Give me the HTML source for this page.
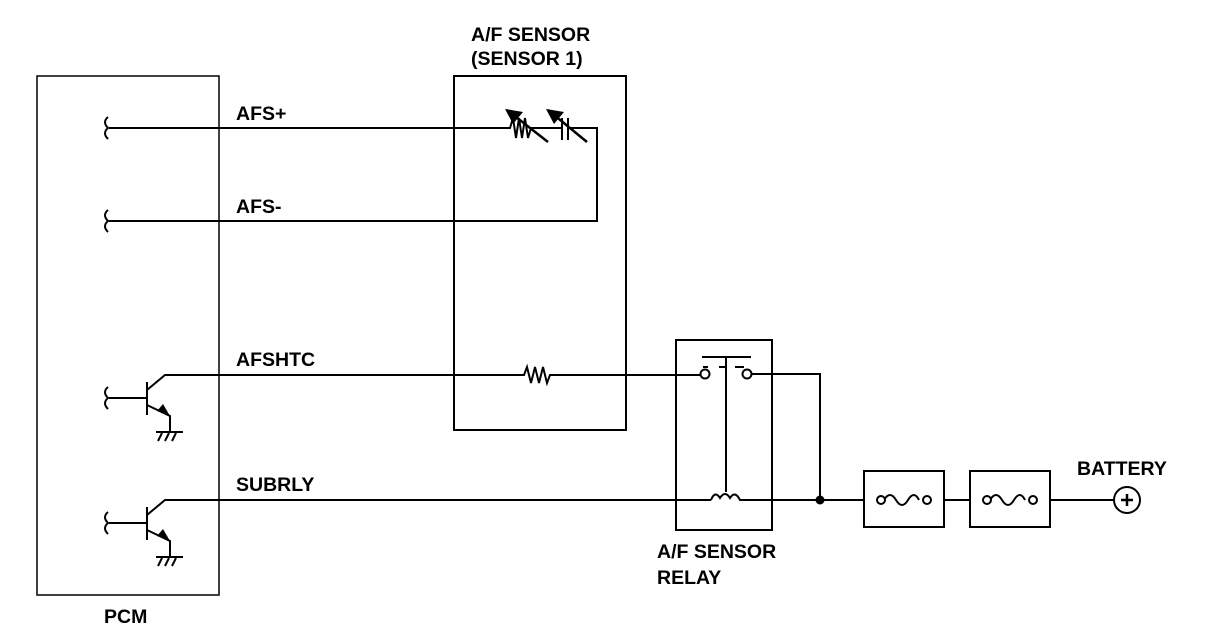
<!DOCTYPE html>
<html><head><meta charset="utf-8"><style>
html,body{margin:0;padding:0;background:#fff;}
svg{display:block;}
text{font-family:"Liberation Sans",Arial,sans-serif;font-weight:bold;font-size:19.5px;fill:#000;}
</style></head><body>
<svg width="1216" height="636" viewBox="0 0 1216 636" xmlns="http://www.w3.org/2000/svg">
<g fill="none" stroke="#000" stroke-width="1.5">
<rect x="37" y="76" width="182" height="519"/>
<rect x="454" y="76" width="172" height="354" stroke-width="2"/>
<rect x="676" y="340" width="96" height="190" stroke-width="2"/>
<rect x="864" y="471" width="80" height="56" stroke-width="2"/>
<rect x="970" y="471" width="80" height="56" stroke-width="2"/>
</g>
<g fill="none" stroke="#000" stroke-width="2">
<path d="M108 117 q-6 5 0 11 q-6 5 0 11"/>
<path d="M108 210 q-6 5 0 11 q-6 5 0 11"/>
<path d="M108 387 q-6 5 0 11 q-6 5 0 11"/>
<path d="M108 512 q-6 5 0 11 q-6 5 0 11"/>
<path d="M109 128 H510 l3 -10 l3 20 l3 -20 l3 20 l3 -20 l3 20 l3 -10 H555"/>
<path d="M507 110 L548 142" stroke-width="2.5"/>
<path d="M562 118 V140 M568 118 V140"/>
<path d="M555 128 H562 M568 128 H597 V221 H109"/>
<path d="M548 110 L587 142" stroke-width="2.5"/>
<path d="M109 398 H147 M147 382 V415 M147 390 L165 375 H524 l3 -8 l4 16 l4 -16 l4 16 l4 -16 l4 16 l3 -8 H700"/>
<path d="M147 405 L170 416 V431 M156 432 H183"/>
<path d="M158 441 l4 -8 M165 441 l4 -8 M172 441 l4 -8"/>
<path d="M109 523 H147 M147 507 V540 M147 515 L165 500 H711"/>
<path d="M147 530 L170 541 V556 M156 557 H183"/>
<path d="M158 566 l4 -8 M165 566 l4 -8 M172 566 l4 -8"/>
<path d="M711 500 q4 -10 9 -2 q5 -8 10 0 q5 -8 10 2 H864"/>
<path d="M944 500 H970 M1050 500 H1114"/>
<path d="M702 357 H751 M726 357 V492 M719 367 H725 M735 367 H744 M703 367 H708"/>
<path d="M750 374 H820 V500"/>
<path d="M884 500 q6 -10 12 0 q6 10 12 0 q6 -10 11 0"/>
<path d="M990 500 q6 -10 12 0 q6 10 12 0 q6 -10 11 0"/>
</g>
<g fill="#000">
<polygon points="505,109 523,112 513,124"/>
<polygon points="546,109 564,112 554,124"/>
<polygon points="170,416 157,411 163,404"/>
<polygon points="170,541 157,536 163,529"/>
<circle cx="820" cy="500" r="4.5"/>
</g>
<g fill="#fff" stroke="#000" stroke-width="2">
<circle cx="705" cy="374" r="4.5"/>
<circle cx="747" cy="374" r="4.5"/>
<circle cx="881" cy="500" r="4"/>
<circle cx="927" cy="500" r="4"/>
<circle cx="987" cy="500" r="4"/>
<circle cx="1033" cy="500" r="4"/>
<circle cx="1127" cy="500" r="13"/>
</g>
<path d="M1121 500 H1133 M1127 494 V506" stroke="#000" stroke-width="2.5"/>
<text x="236" y="120">AFS+</text>
<text x="236" y="213">AFS-</text>
<text x="236" y="366">AFSHTC</text>
<text x="236" y="491">SUBRLY</text>
<text x="471" y="41">A/F SENSOR</text>
<text x="471" y="65">(SENSOR 1)</text>
<text x="657" y="558">A/F SENSOR</text>
<text x="657" y="584">RELAY</text>
<text x="1077" y="475">BATTERY</text>
<text x="104" y="623">PCM</text>
</svg>
</body></html>
